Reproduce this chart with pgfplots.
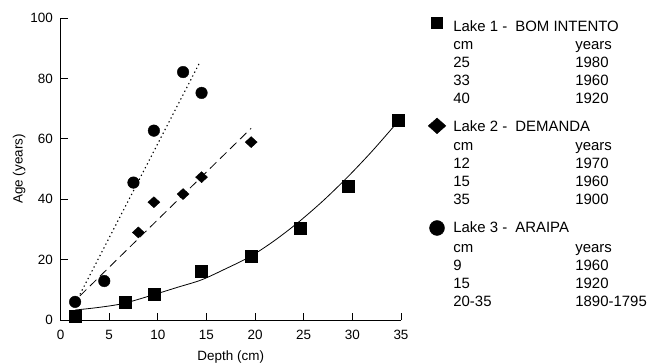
\documentclass[border=0pt]{standalone}
\usepackage{fontspec}
\setmainfont{Liberation Sans}
\usepackage{pgfplots}
\pgfplotsset{compat=1.18}
\newcommand{\lhead}[2]{\rule{0pt}{#1}\raisebox{0pt}[\height][0pt]{#2}}
\newcommand{\lrow}[3]{\rule{0pt}{#1}\raisebox{0pt}[\height][0pt]{\makebox[122bp][l]{#2}#3}}
\newcommand{\rs}{16.6bp}
\newcommand{\hs}{26.9bp}
\begin{document}
\begin{tikzpicture}
\begin{axis}[
 scale only axis, width=340.5bp, height=302bp,
 xmin=0,xmax=35,ymin=0,ymax=100,
 axis x line*=bottom, axis y line*=left,
 xtick={0,5,...,35}, ytick={0,20,...,100},
 tick align=inside, major tick length=7.5bp,
 every tick/.style={black, line width=0.8bp},
 axis line style={black, line width=0.8bp},
 /pgf/number format/assume math mode=true,
 tick label style={font=\fontsize{13.5}{16}\selectfont},
 xticklabel style={anchor=north, inner sep=0pt, yshift=-10bp},
 yticklabel style={anchor=east, inner sep=0pt, xshift=-7.4bp},
 label style={font=\fontsize{13.5}{16}\selectfont},
 xlabel={Depth (cm)}, ylabel={Age (years)},
 x label style={at={(axis description cs:0.5,-0.1348)}, anchor=base, inner sep=0pt},
 y label style={at={(axis description cs:-0.1110,0.5)}, anchor=base, inner sep=0pt},
 clip=false,
 legend image code/.code={\draw[#1] plot coordinates {(0bp,0bp)};},
 legend style={at={(axis description cs:1.0799,1.003)}, anchor=north west, draw=none, fill=none, inner sep=0pt, outer sep=0pt, column sep=7.5bp, row sep=0pt, font=\fontsize{15}{18}\selectfont, nodes={inner sep=0pt, outer sep=0pt}, cells={anchor=base west, inner sep=0pt}},
]
% Lake 1 fit
\addplot[forget plot, black, line width=0.8bp, smooth] coordinates {
(1.5,3.3)(4,4.2)(6.5,5.5)(9.5,8.3)(12,10.8)(14.5,13.3)(17,17)(19.5,21)(22,26.3)(24.5,32.5)(27,39.5)(29.5,47.3)(32,55.8)(34.5,65)};
% Lake 2 fit
\addplot[forget plot, black, line width=0.8bp, dash pattern=on 9bp off 5bp] coordinates {(2.0,8.0)(19.6,63.5)};
% Lake 3 fit
\addplot[forget plot, black, line width=1.1bp, dash pattern=on 1.3bp off 3bp] coordinates {(2.0,8.5)(14.3,85.2)};
% data
\addplot[forget plot, only marks, mark=square*, mark size=6bp, black] coordinates {(1.5,1.3)(6.6,6)(9.6,8.6)(14.5,16)(19.6,21.2)(24.6,30.4)(29.6,44.2)(34.7,66.3)};
\addplot[forget plot, only marks, mark=diamond*, mark size=5.5bp, black, mark options={xscale=1.45}] coordinates {(8,29)(9.6,39)(12.6,41.7)(14.5,47.3)(19.6,58.9)};
\addplot[forget plot, only marks, mark=*, mark size=5.8bp, black] coordinates {(1.5,6)(4.5,12.9)(7.5,45.5)(9.6,62.7)(12.6,82.1)(14.5,75.2)};
% legend: Lake 1
\addlegendimage{only marks, mark=square*, mark size=5.5bp, black, mark options={yshift=8.5bp}}
\addlegendentry{\lhead{0pt}{Lake 1 -\hspace{8bp}BOM INTENTO}}
\addlegendimage{empty legend}\addlegendentry{\lrow{\rs}{cm}{years}}
\addlegendimage{empty legend}\addlegendentry{\lrow{\rs}{25}{1980}}
\addlegendimage{empty legend}\addlegendentry{\lrow{\rs}{33}{1960}}
\addlegendimage{empty legend}\addlegendentry{\lrow{\rs}{40}{1920}}
% Lake 2
\addlegendimage{only marks, mark=diamond*, mark size=7.85bp, black, mark options={xscale=1.5, yshift=6bp}}
\addlegendentry{\lhead{\hs}{Lake 2 -\hspace{8bp}DEMANDA}}
\addlegendimage{empty legend}\addlegendentry{\lrow{\rs}{cm}{years}}
\addlegendimage{empty legend}\addlegendentry{\lrow{\rs}{12}{1970}}
\addlegendimage{empty legend}\addlegendentry{\lrow{\rs}{15}{1960}}
\addlegendimage{empty legend}\addlegendentry{\lrow{\rs}{35}{1900}}
% Lake 3
\addlegendimage{only marks, mark=*, mark size=7.5bp, black, mark options={yshift=5bp}}
\addlegendentry{\lhead{\hs}{Lake 3 -\hspace{8bp}ARAIPA}}
\addlegendimage{empty legend}\addlegendentry{\lrow{\rs}{cm}{years}}
\addlegendimage{empty legend}\addlegendentry{\lrow{\rs}{9}{1960}}
\addlegendimage{empty legend}\addlegendentry{\lrow{\rs}{15}{1920}}
\addlegendimage{empty legend}\addlegendentry{\lrow{\rs}{20-35}{1890-1795}}
\end{axis}
\pgfresetboundingbox
\useasboundingbox (-60.5bp,-43bp) rectangle (590.5bp,320bp);
\end{tikzpicture}
\end{document}
